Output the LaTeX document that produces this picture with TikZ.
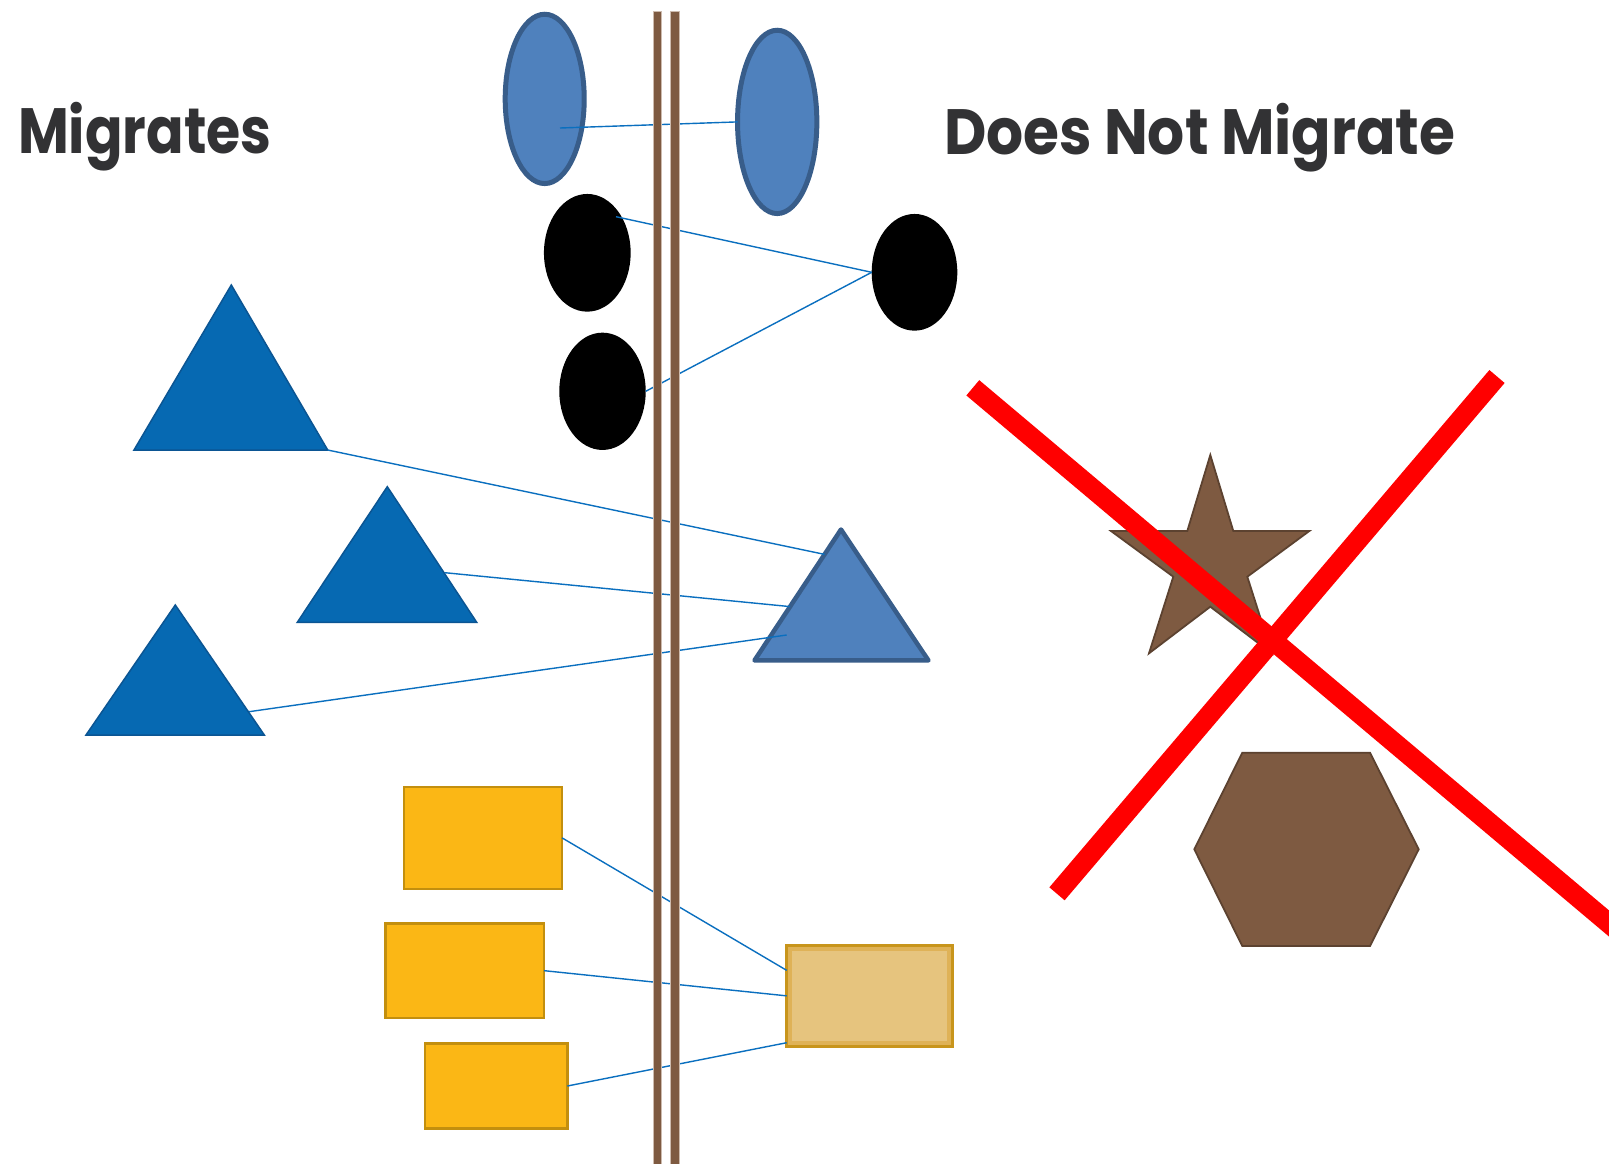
\documentclass[tikz,border=0pt]{standalone}
\usepackage{fontspec}
\setmainfont{Poppins}
\usetikzlibrary{shapes.geometric,calc}
\definecolor{ellblue}{HTML}{4F81BD}
\definecolor{elledge}{HTML}{385D8A}
\definecolor{tribl}{HTML}{0669B2}
\definecolor{triedge}{HTML}{0B5593}
\definecolor{linkblue}{HTML}{0A6FBF}
\definecolor{polebrown}{HTML}{7E5A41}
\definecolor{poleedge}{HTML}{CDBBAE}
\definecolor{boxgold}{HTML}{FBB715}
\definecolor{boxedge}{HTML}{C38F0E}
\definecolor{tanout}{HTML}{DFB257}
\definecolor{tanin}{HTML}{E6C47E}
\definecolor{tanedge}{HTML}{C8951C}
\definecolor{shapebrown}{HTML}{7E5A41}
\definecolor{shapeedge}{HTML}{5C4230}
\definecolor{crossred}{HTML}{FF0000}
\definecolor{txtgray}{RGB}{50,50,52}
\begin{document}
\begin{tikzpicture}[x=1pt,y=-1pt,
  blueell/.style={ellipse,draw=elledge,fill=ellblue,line width=5pt,inner sep=0pt,outer sep=0pt},
  blackell/.style={ellipse,fill=black,inner sep=0pt,outer sep=0pt},
  tri/.style={fill=tribl,draw=triedge,line width=1.5pt,line join=miter},
  bigtri/.style={fill=ellblue,draw=elledge,line width=4.5pt,line join=round},
  goldbox/.style={rectangle,fill=boxgold,draw=boxedge,line width=2.5pt,inner sep=0pt,outer sep=0pt},
  tanbox/.style={rectangle,fill=tanout,draw=tanedge,line width=3pt,inner sep=0pt,outer sep=0pt},
  link/.style={draw=linkblue,line width=1.4pt},
  pole/.style={fill=polebrown,draw=poleedge,line width=0.8pt},
  brownshape/.style={fill=shapebrown,draw=shapeedge,line width=1.8pt,line join=miter},
  cross/.style={draw=crossred,line width=20pt,line cap=butt},
  title/.style={font=\fontsize{64}{70}\selectfont\bfseries,text=txtgray,inner sep=0pt,outer sep=0pt,anchor=base west}]
\useasboundingbox (0,0) rectangle (1609,1163);
\clip (0,0) rectangle (1609,1163);
\fill[white] (0,0) rectangle (1609,1163);

% ellipses
\node[blueell,minimum width=79pt,minimum height=169.3pt] (be1) at (544.7,98.9) {};
\node[blueell,minimum width=79.3pt,minimum height=183.3pt] (be2) at (777.2,121.9) {};
\node[blackell,minimum width=86.7pt,minimum height=117.7pt] (bk1) at (587.3,252.8) {};
\node[blackell,minimum width=86.4pt,minimum height=117.3pt] (bk2) at (602.5,391.3) {};
\node[blackell,minimum width=85.6pt,minimum height=116.7pt] (bk3) at (914.5,272.3) {};

% triangles
\coordinate (t1a) at (231.3,285); \coordinate (t1l) at (134,450); \coordinate (t1r) at (327.7,450);
\coordinate (t2a) at (387.3,486.7); \coordinate (t2l) at (297.3,622.3); \coordinate (t2r) at (476.7,622.3);
\coordinate (t3a) at (175.3,605); \coordinate (t3l) at (86,735); \coordinate (t3r) at (264.3,735);
\coordinate (rta) at (841,529.5); \coordinate (rtl) at (754.5,660.4); \coordinate (rtr) at (928.4,660.4);
\draw[tri] (t1a) -- (t1l) -- (t1r) -- cycle;
\draw[tri] (t2a) -- (t2l) -- (t2r) -- cycle;
\draw[tri] (t3a) -- (t3l) -- (t3r) -- cycle;
\draw[bigtri] (rta) -- (rtl) -- (rtr) -- cycle;

% boxes
\node[goldbox,minimum width=158.3pt,minimum height=101.8pt] (r1) at (482.9,837.85) {};
\node[goldbox,minimum width=158.6pt,minimum height=94.2pt] (r2) at (464.75,970.65) {};
\node[goldbox,minimum width=142.5pt,minimum height=84.9pt] (r3) at (496.1,1086) {};
\node[tanbox,minimum width=165.4pt,minimum height=100.7pt] (rr) at (869.4,995.85) {};
\fill[tanin] ([xshift=5pt,yshift=5pt]rr.south west) rectangle ([xshift=-5pt,yshift=-5pt]rr.north east);

% connector end points
\coordinate (be1in) at (560,128);
\coordinate (bk1in) at (616,216.7);
\coordinate (t2e) at (445,572.7);
\coordinate (t3e) at (249,711.7);
\coordinate (rt1) at ($(rta)!0.19!(rtl)$);
\coordinate (rt2) at ($(rta)!0.589!(rtl)$);
\coordinate (rt3) at (786.7,635);

% connectors
\draw[link] (be1in) -- (be2.west);
\draw[link] (bk1in) -- (bk3.west);
\draw[link] (bk2.east) -- (bk3.west);
\draw[link] (t1r) -- (rt1);
\draw[link] (t2e) -- (rt2);
\draw[link] (t3e) -- (rt3);
\draw[link] (r1.east) -- ([yshift=25.5pt]rr.west);
\draw[link] (r2.east) -- (rr.west);
\draw[link] (r3.east) -- ([yshift=3.5pt]rr.south west);

% poles
\draw[pole] (652.9,11) rectangle (661.5,1175);
\draw[pole] (670.5,11) rectangle (679.1,1175);

% star and hexagon
\draw[brownshape] (1210.3,455) -- (1233.3,531) -- (1309.3,531) -- (1247.3,576.7) -- (1271.7,653.3)
  -- (1210.3,606.7) -- (1149,653.3) -- (1173.3,576.7) -- (1111,531) -- (1187.3,531) -- cycle;
\draw[brownshape] (1194.3,849.3) -- (1242.3,752.7) -- (1370,752.7) -- (1418.7,849.3) -- (1370,946) -- (1242.3,946) -- cycle;

% red cross
\coordinate (c1s) at (972.8,387.8); \coordinate (c1e) at (1660,966.4);
\coordinate (c2s) at (1057,893.8); \coordinate (c2e) at (1497,376.5);
\draw[cross] (c1s) -- (c1e);
\draw[cross] (c2s) -- (c2e);

% titles
\node[title] (mig) at (18,153.3) {\scalebox{0.865}[1]{Migrates}};
\node[title] (dnm) at (944,154) {\scalebox{0.91}[1]{Does Not Migrate}};
\end{tikzpicture}
\end{document}
